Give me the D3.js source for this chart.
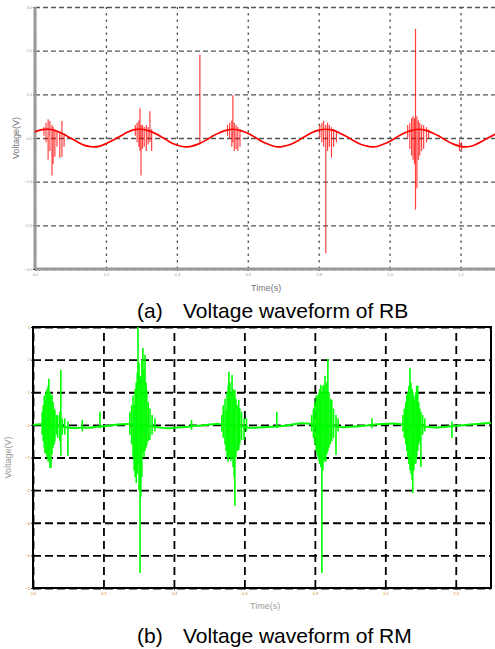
<!DOCTYPE html>
<html>
<head>
<meta charset="utf-8">
<script src="https://cdn.jsdelivr.net/npm/d3@7"></script>
<style>
	body { margin: 0; background: #fff; }
	svg { display: block; font-family: "Liberation Sans", Arial, sans-serif; }
</style>
</head>
<body>
<div id="chart-area"></div>
<script>

// Sample times shared by both traces (s)
var sampleTime = [0, 0.02, 0.04, 0.06, 0.08, 0.10, 0.12, 0.14, 0.16, 0.18, 0.20, 0.22, 0.24, 0.26, 0.28,
	0.30, 0.32, 0.34, 0.36, 0.38, 0.40, 0.42, 0.44, 0.46, 0.48, 0.50, 0.52, 0.54, 0.56, 0.58,
	0.60, 0.62, 0.64, 0.66, 0.68, 0.70, 0.72, 0.74, 0.76, 0.78, 0.80, 0.82, 0.84, 0.86, 0.88,
	0.90, 0.92, 0.94, 0.96, 0.98, 1.00, 1.02, 1.04, 1.06, 1.08, 1.10, 1.12, 1.14, 1.16, 1.18,
	1.20, 1.22, 1.24, 1.26, 1.28, 1.30];

// (a) RB baseline voltage (V)
var voltA = [0.14, 0.19, 0.20, 0.16, 0.09, 0.00, -0.09, -0.17, -0.20, -0.19, -0.13, -0.05, 0.04, 0.13, 0.19,
	0.20, 0.17, 0.10, 0.01, -0.09, -0.16, -0.20, -0.19, -0.14, -0.06, 0.04, 0.12, 0.18, 0.20, 0.17,
	0.11, 0.02, -0.08, -0.15, -0.20, -0.19, -0.15, -0.07, 0.03, 0.12, 0.18, 0.20, 0.18, 0.11, 0.03,
	-0.07, -0.15, -0.19, -0.20, -0.15, -0.08, 0.02, 0.11, 0.17, 0.20, 0.18, 0.12, 0.04, -0.06, -0.14,
	-0.19, -0.20, -0.16, -0.08, 0.01, 0.10];

// (a) RB spikes: time, lowest and highest value
var spikeTimeA = [0.025, 0.031, 0.037, 0.042, 0.048, 0.051, 0.056, 0.062, 0.070, 0.076, 0.082,
	0.283, 0.288, 0.293, 0.296, 0.299, 0.303, 0.308, 0.314, 0.319, 0.324, 0.329,
	0.465,
	0.543, 0.549, 0.555, 0.558, 0.562, 0.567, 0.572, 0.578,
	0.803, 0.809, 0.814, 0.820, 0.825, 0.830, 0.836, 0.842, 0.850,
	1.051, 1.057, 1.062, 1.066, 1.070, 1.073, 1.077, 1.081, 1.085, 1.090, 1.096, 1.104, 1.110,
	1.197, 1.203];
var spikeLowA = [0.05, -0.10, -0.50, -0.30, -0.86, -0.60, -0.43, -0.20, -0.45, -0.43, -0.20,
	0.05, -0.10, -0.20, -0.30, -0.86, -0.25, -0.20, -0.30, -0.15, -0.10, -0.30,
	-0.15,
	0.05, 0.00, -0.20, -0.10, -0.30, -0.25, -0.30, -0.20,
	0.00, -0.10, -0.20, -2.64, -0.30, -0.20, -0.45, -0.20, -0.10,
	0.00, -0.25, -0.40, -0.50, -0.60, -1.64, -1.15, -0.50, -0.40, -0.30, -0.25, -0.10, 0.00,
	-0.30, -0.28];
var spikeHighA = [0.25, 0.35, 0.43, 0.39, 0.30, 0.25, 0.20, 0.15, 0.15, 0.39, 0.10,
	0.30, 0.35, 0.40, 0.68, 0.30, 0.30, 0.25, 0.30, 0.25, 0.61, 0.20,
	1.91,
	0.30, 0.35, 0.40, 0.98, 0.35, 0.30, 0.25, 0.20,
	0.30, 0.35, 0.39, 0.30, 0.35, 0.30, 0.25, 0.20, 0.15,
	0.30, 0.35, 0.45, 0.50, 0.45, 2.50, 0.50, 0.40, 0.35, 0.30, 0.30, 0.25, 0.20,
	-0.05, -0.10];

// (b) RM baseline voltage (V)
var voltB = [0.00, 0.02, 0.00, -0.02, -0.05, -0.08, -0.10, -0.08, -0.09, -0.06, -0.04, -0.02, 0.01, 0.02, 0.03,
	0.00, -0.02, -0.05, -0.08, -0.10, -0.09, -0.07, -0.06, -0.03, -0.02, 0.01, 0.03, 0.02, 0.00, -0.03,
	-0.06, -0.09, -0.08, -0.07, -0.06, -0.04, -0.02, 0.02, 0.05, 0.04, 0.01, 0.00, -0.02, -0.05, -0.07,
	-0.06, -0.05, -0.03, 0.00, 0.02, 0.03, 0.04, 0.03, 0.01, 0.00, -0.03, -0.06, -0.08, -0.07, -0.05,
	-0.03, -0.01, 0.01, 0.03, 0.05, 0.06];

// (b) RM spikes: time, lowest and highest value
var spikeTimeB = [0.026, 0.029, 0.032, 0.034, 0.037, 0.040, 0.043, 0.045, 0.048, 0.051, 0.054, 0.057, 0.060, 0.062, 0.066, 0.070, 0.076, 0.079, 0.083, 0.090, 0.099,
	0.140, 0.190,
	0.275, 0.280, 0.284, 0.287, 0.290, 0.293, 0.296, 0.298, 0.301, 0.304, 0.306, 0.309, 0.312, 0.315, 0.318, 0.321, 0.323, 0.327, 0.332, 0.338, 0.346,
	0.450,
	0.536, 0.540, 0.545, 0.548, 0.551, 0.554, 0.556, 0.559, 0.562, 0.565, 0.568, 0.571, 0.573, 0.576, 0.580, 0.584, 0.587, 0.592, 0.599, 0.606,
	0.692,
	0.791, 0.796, 0.800, 0.804, 0.807, 0.809, 0.812, 0.814, 0.817, 0.820, 0.823, 0.826, 0.829, 0.831, 0.834, 0.837, 0.840, 0.844, 0.848, 0.853, 0.860, 0.866,
	0.962,
	1.050, 1.054, 1.058, 1.061, 1.064, 1.067, 1.070, 1.073, 1.076, 1.078, 1.081, 1.084, 1.087, 1.089, 1.092, 1.095, 1.098, 1.101, 1.106, 1.112,
	1.189];
var spikeLowB = [-0.30, -0.50, -0.70, -0.86, -0.90, -1.00, -1.13, -0.80, -1.32, -1.32, -0.90, -0.70, -0.60, -0.50, -0.30, -0.40, -0.50, -0.95, -0.30, -0.30, -0.95,
	-0.20, -0.10,
	-0.30, -0.60, -1.00, -1.40, -1.60, -1.78, -1.50, -1.20, -2.00, -4.54, -2.20, -1.60, -0.86, -1.00, -0.80, -0.70, -0.61, -0.50, -0.46, -0.30, -0.20,
	-0.15,
	-0.20, -0.40, -0.60, -0.80, -1.00, -1.13, -0.90, -1.00, -1.10, -1.00, -1.30, -1.60, -2.48, -1.00, -0.80, -0.77, -0.60, -0.46, -0.46, -0.20,
	-0.10,
	-0.20, -0.40, -0.60, -0.80, -0.92, -1.00, -1.10, -1.20, -1.30, -4.54, -1.40, -1.13, -1.00, -1.13, -0.90, -0.80, -0.70, -0.60, -0.50, -0.40, -0.92, -0.20,
	-0.10,
	-0.20, -0.40, -0.60, -0.80, -1.00, -1.20, -1.38, -1.50, -1.70, -2.09, -1.40, -1.20, -1.17, -1.00, -0.80, -0.60, -0.50, -1.29, -0.30, -0.20,
	-0.40];
var spikeHighB = [0.40, 0.60, 0.90, 0.77, 1.00, 1.10, 1.20, 1.41, 1.00, 0.90, 0.92, 0.70, 0.50, 0.46, 0.30, 0.30, 0.40, 1.69, 0.20, 0.20, 0.10,
	0.15, 0.40,
	0.40, 0.60, 0.90, 0.61, 1.10, 1.30, 1.60, 3.00, 1.90, 1.50, 1.38, 2.00, 2.36, 1.70, 2.15, 1.30, 1.07, 0.70, 0.50, 0.30, 0.20,
	0.15,
	0.30, 0.60, 0.80, 0.46, 1.00, 1.20, 1.63, 1.30, 1.00, 1.53, 1.10, 0.90, 1.07, 0.80, 0.60, 0.77, 0.50, 0.40, 0.20, 0.20,
	0.40,
	0.30, 0.50, 0.70, 0.90, 0.80, 0.92, 1.00, 1.10, 1.23, 1.00, 1.20, 1.23, 1.50, 1.00, 1.30, 2.02, 1.00, 0.80, 0.77, 0.50, 0.30, 0.20,
	0.20,
	0.30, 0.50, 0.70, 0.92, 1.00, 1.20, 1.75, 1.30, 1.10, 1.00, 0.90, 0.77, 1.00, 1.20, 1.20, 0.70, 0.50, 0.40, 0.30, 0.20,
	0.10];

// Tick labels
var xTicks = [0, 0.2, 0.4, 0.6, 0.8, 1, 1.2];
var yTicksA = [-3, -2, -1, 0, 1, 2, 3];
var yTicksB = [-5, -4, -3, -2, -1, 0, 1, 2, 3];

// Setup the canvas
var width = 495;
var height = 649;

var svg = d3.select("#chart-area").append("svg")
	.attr("width", width)
	.attr("height", height);

function drawPanel(p) {
	var x = d3.scaleLinear().domain([0, 1.3]).range([p.left, p.right]);
	var y = d3.scaleLinear().domain(p.yDomain).range([p.bottom, p.top]);
	var g = svg.append("g");

	// Grid lines
	g.append("g")
		.attr("transform", "translate(" + p.left + ", 0)")
		.call(d3.axisLeft(y).tickValues(p.yTicks).tickSize(-(p.right - p.left)).tickFormat(""))
		.call((a) => a.select(".domain").remove())
		.selectAll("line")
			.attr("stroke", p.gridColor)
			.attr("stroke-width", p.gridWidth)
			.attr("stroke-dasharray", p.hDash);

	g.append("g")
		.attr("transform", "translate(0, " + p.bottom + ")")
		.call(d3.axisBottom(x).tickValues(xTicks).tickSize(-(p.bottom - p.top)).tickFormat(""))
		.call((a) => a.select(".domain").remove())
		.selectAll("line")
			.attr("stroke", p.gridColor)
			.attr("stroke-width", p.gridWidth)
			.attr("stroke-dasharray", p.vDash);

	// Tiny tick labels
	g.append("g")
		.attr("transform", "translate(" + p.left + ", 0)")
		.call(d3.axisLeft(y).tickValues(p.yTicks).tickSize(2).tickPadding(1))
		.call((a) => a.select(".domain").remove())
		.call((a) => a.selectAll("text").attr("font-size", "4px").attr("fill", p.tickColor))
		.call((a) => a.selectAll("line").attr("stroke", "#333"));

	g.append("g")
		.attr("transform", "translate(0, " + p.bottom + ")")
		.call(d3.axisBottom(x).tickValues(xTicks).tickSize(2).tickPadding(2))
		.call((a) => a.select(".domain").remove())
		.call((a) => a.selectAll("text").attr("font-size", "4px").attr("fill", p.tickColor))
		.call((a) => a.selectAll("line").attr("stroke", "#333"));

	// Frame
	if (p.box) {
		g.append("rect")
			.attr("x", p.left)
			.attr("y", p.top)
			.attr("width", p.right - p.left)
			.attr("height", p.bottom - p.top)
			.attr("fill", "none")
			.attr("stroke", "#000")
			.attr("stroke-width", 2);
	} else {
		g.append("line")
			.attr("x1", p.left).attr("x2", p.left)
			.attr("y1", p.top).attr("y2", p.bottom)
			.attr("stroke", "#999").attr("stroke-width", 3);
		g.append("line")
			.attr("x1", p.left).attr("x2", p.right)
			.attr("y1", p.bottom).attr("y2", p.bottom)
			.attr("stroke", "#999").attr("stroke-width", 3);
	}

	// Spikes
	var spikes = p.spikeTime.map((t, i) => [[t, p.spikeLow[i]], [t, p.spikeHigh[i]]]);
	var line = d3.line().x((d) => x(d[0])).y((d) => y(d[1]));
	g.append("g").selectAll("path").data(spikes).enter()
		.append("path")
			.attr("d", line)
			.attr("fill", "none")
			.attr("stroke", p.color)
			.attr("stroke-opacity", p.spikeOpacity)
			.attr("stroke-width", p.spikeWidth);

	// Baseline trace
	var trace = sampleTime.map((t, i) => [t, p.volt[i]]);
	g.append("path")
		.datum(trace)
		.attr("d", d3.line().curve(d3.curveCatmullRom).x((d) => x(d[0])).y((d) => y(d[1])))
		.attr("fill", "none")
		.attr("stroke", p.color)
		.attr("stroke-width", p.traceWidth);

	// Axis labels
	g.append("text")
		.attr("x", -((p.top + p.bottom) / 2))
		.attr("y", p.labelX)
		.attr("transform", "rotate(-90)")
		.attr("text-anchor", "middle")
		.attr("font-size", "9px")
		.attr("fill", p.labelColor)
		.text("Voltage(V)");

	g.append("text")
		.attr("x", p.timeX)
		.attr("y", p.timeY)
		.attr("font-size", "9px")
		.attr("fill", p.labelColor)
		.text("Time(s)");

	// Caption
	var cap = g.append("text")
		.attr("y", p.capY)
		.attr("font-size", "21px")
		.attr("fill", "#000");
	cap.append("tspan").attr("x", 137).text(p.capTag);
	cap.append("tspan").attr("x", 183).text(p.capText);
}

drawPanel({
	left: 35, right: 496, top: 7, bottom: 269,
	yDomain: [-3, 3], yTicks: yTicksA,
	volt: voltA, spikeTime: spikeTimeA, spikeLow: spikeLowA, spikeHigh: spikeHighA,
	color: "#ff0000", spikeOpacity: 0.75, spikeWidth: 1.2, traceWidth: 1.7,
	gridColor: "#555", gridWidth: 1.3, hDash: "5,3", vDash: "2.5,4",
	tickColor: "#999", box: false,
	labelX: 19, labelColor: "#777", timeX: 251, timeY: 291,
	capY: 318, capTag: "(a)", capText: "Voltage waveform of RB"
});

drawPanel({
	left: 33, right: 491, top: 327, bottom: 588,
	yDomain: [-5, 3], yTicks: yTicksB,
	volt: voltB, spikeTime: spikeTimeB, spikeLow: spikeLowB, spikeHigh: spikeHighB,
	color: "#00ff00", spikeOpacity: 1, spikeWidth: 1.6, traceWidth: 2,
	gridColor: "#000", gridWidth: 1.8, hDash: "8,4", vDash: "8,5",
	tickColor: "#d08a2a", box: true,
	labelX: 11, labelColor: "#999", timeX: 250, timeY: 609,
	capY: 643, capTag: "(b)", capText: "Voltage waveform of RM"
});

</script>
</body>
</html>
